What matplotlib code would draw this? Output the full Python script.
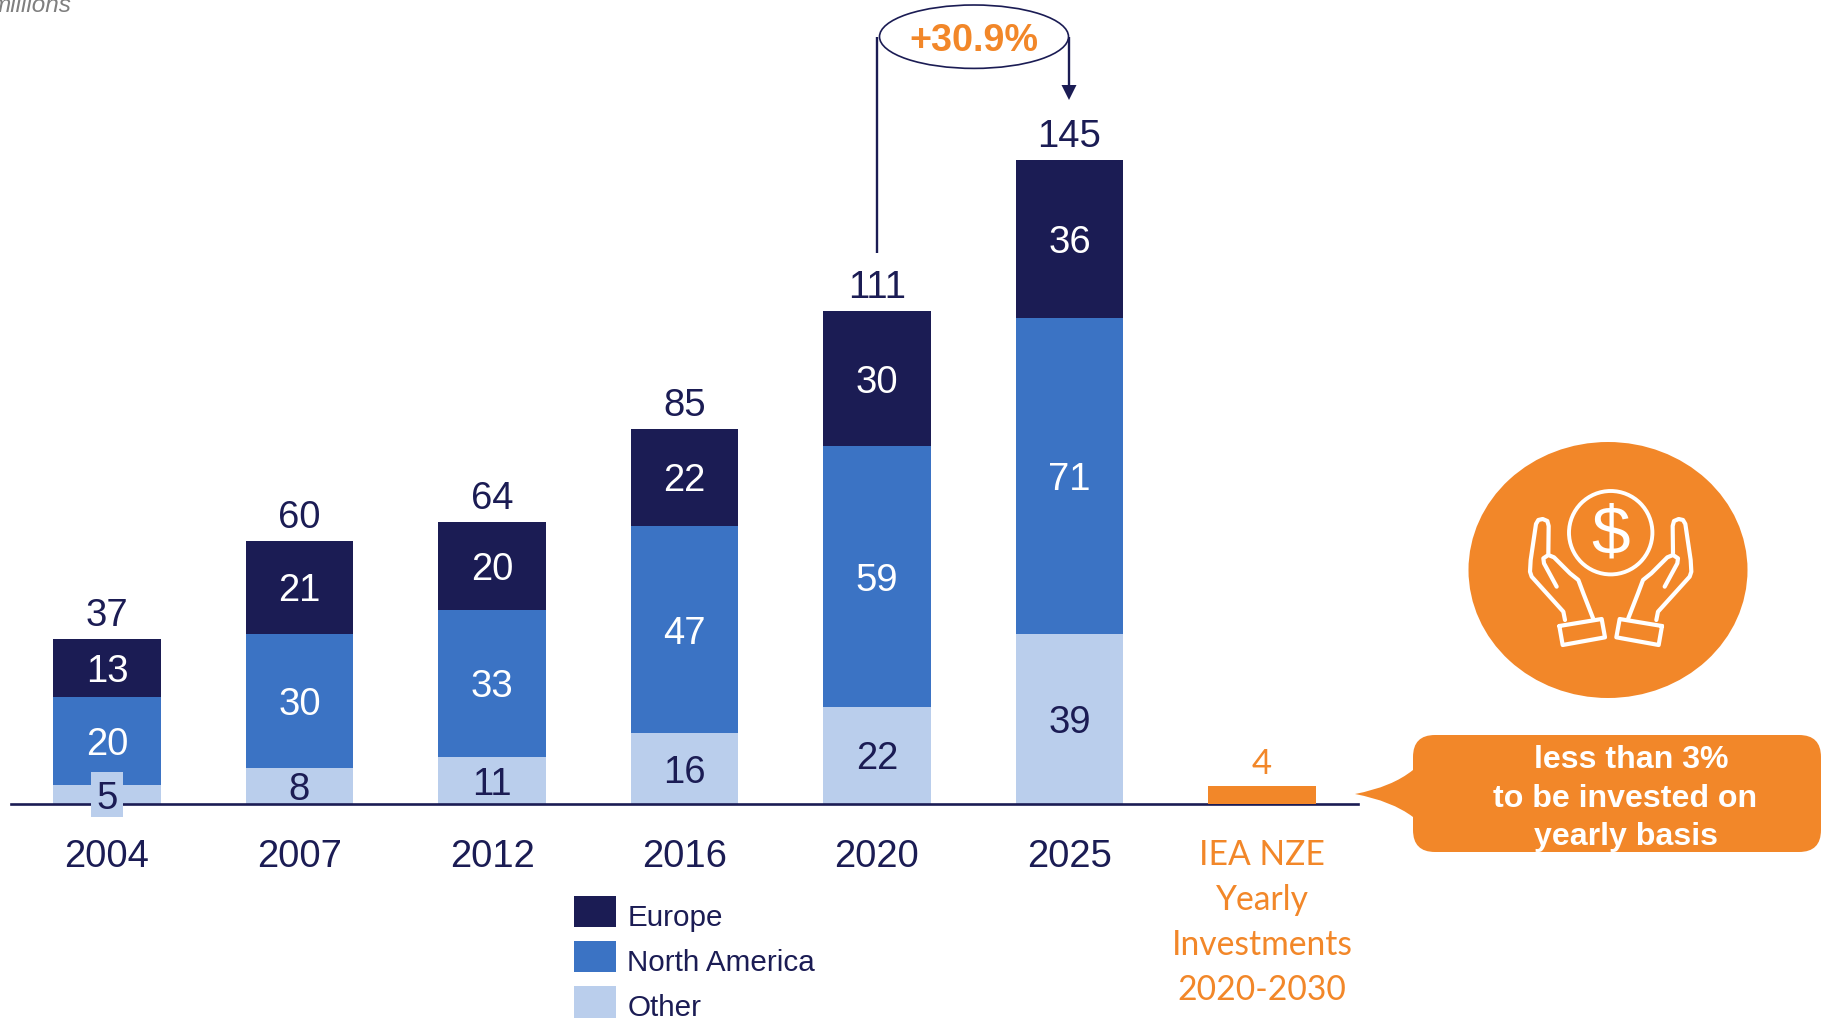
import numpy as np
import matplotlib
matplotlib.use("Agg")
import matplotlib.pyplot as plt
from matplotlib.patches import Circle, Ellipse, PathPatch, Polygon, Rectangle
from matplotlib.path import Path
from matplotlib.transforms import Affine2D

plt.rcParams['font.family'] = ['Liberation Sans', 'DejaVu Sans']

years = ['2004', '2007', '2012', '2016', '2020', '2025']
nze_label = 'IEA NZE\nYearly\nInvestments\n2020-2030'
nze_value = 4

# bar heights
other = [4.3, 8.2, 10.6, 16, 22, 38.5]
north_america = [20, 30.4, 33.4, 47, 59, 71.5]
europe = [13, 21, 20, 22, 30.6, 36]

# printed labels, they do not always add up
other_labels = [5, 8, 11, 16, 22, 39]
north_america_labels = [20, 30, 33, 47, 59, 71]
europe_labels = [13, 21, 20, 22, 30, 36]
totals = [37, 60, 64, 85, 111, 145]

growth_label = '+30.9%'
callout_text = ['less than 3%', 'to be invested on', 'yearly basis']

NAVY = '#1B1C54'
BLUE = '#3B73C4'
LIGHT = '#BACEEC'
ORANGE = '#F28729'

W, H = 1825, 1018
fig = plt.figure(figsize=(W / 100, H / 100), dpi=100)
ax = fig.add_axes([0, 0, 1, 1])
ax.set_facecolor('none')

# one category is 192.5 px, one unit is 4.414 px
ax.set_xlim(-107 / 192.5, (W - 107) / 192.5)
ax.set_ylim(-(H - 804) / 4.414, 804 / 4.414)

# pixel coordinates, origin top left, for the drawn decorations
px = Affine2D().scale(1, -1).translate(0, H)

x = np.arange(len(years))
width = 0.556
other = np.array(other)
north_america = np.array(north_america)
europe = np.array(europe)

b1 = ax.bar(x, other, width, color=LIGHT, label='Other')
b2 = ax.bar(x, north_america, width, bottom=other, color=BLUE, label='North America')
b3 = ax.bar(x, europe, width, bottom=other + north_america, color=NAVY, label='Europe')
ax.bar([len(years)], [nze_value], width, color=ORANGE, zorder=3)

for i in x:
    ax.text(i, other[i] / 2, str(other_labels[i]), color=NAVY, fontsize=27.5,
            ha='center', va='center_baseline', zorder=5)
    ax.text(i, other[i] + north_america[i] / 2, str(north_america_labels[i]), color='white',
            fontsize=27.5, ha='center', va='center_baseline', zorder=5)
    ax.text(i, other[i] + north_america[i] + europe[i] / 2, str(europe_labels[i]), color='white',
            fontsize=27.5, ha='center', va='center_baseline', zorder=5)
    top = other[i] + north_america[i] + europe[i]
    ax.annotate(str(totals[i]), (i, top), xytext=(0, 19.4), textcoords='offset points',
                color=NAVY, fontsize=27.5, ha='center', va='center_baseline')

ax.annotate(str(nze_value), (len(years), nze_value), xytext=(0, 18.5), textcoords='offset points',
            color=ORANGE, fontsize=25, ha='center', va='center_baseline',
            family=['Lato', 'DejaVu Sans'])

# the small label box of the first bar sticks out over the axis
ax.add_patch(Rectangle((91, 772), 32, 45, facecolor=LIGHT, edgecolor='none',
                       transform=px, zorder=4))

# axis
for side in ['left', 'right', 'top']:
    ax.spines[side].set_visible(False)
ax.spines['bottom'].set_position(('data', 0))
ax.spines['bottom'].set_bounds(-0.5, 6.5)
ax.spines['bottom'].set_color(NAVY)
ax.spines['bottom'].set_linewidth(1.9)
ax.set_yticks([])
ax.set_xticks(list(x) + [len(years)])
ax.set_xticklabels(years + [nze_label])
ax.tick_params(axis='x', length=0, pad=25, labelsize=27.5, labelcolor=NAVY)
last = ax.get_xticklabels()[-1]
last.set_color(ORANGE)
last.set_fontfamily(['Lato', 'DejaVu Sans'])
last.set_fontsize(24.2)
last.set_linespacing(1.5)

# legend
leg = ax.legend(handles=[b3, b2, b1], loc='upper left', bbox_to_anchor=(574, 896),
                bbox_transform=px, frameon=False, fontsize=21.3, labelcolor=NAVY,
                borderpad=0, borderaxespad=0, handlelength=1.42, handleheight=1.25,
                handletextpad=0.38, labelspacing=0.46)
# labels sit a little lower than the swatches
for txt in leg.get_texts():
    txt.set_position((0, -4))

# growth bracket
ax.plot([877.3, 877.3], [253, 37], color=NAVY, lw=1.7, transform=px, solid_capstyle='butt')
ax.plot([1069, 1069], [37, 88], color=NAVY, lw=1.7, transform=px, solid_capstyle='butt')
ax.add_patch(Polygon([(1061.5, 85), (1076.5, 85), (1069, 100)], closed=True,
                     facecolor=NAVY, edgecolor='none', transform=px))
ax.add_patch(Ellipse((974, 36.7), 189, 63.4, facecolor='white', edgecolor=NAVY, lw=1.2,
                     transform=px, zorder=3))
ax.text(974, 41, growth_label, color=ORANGE, fontsize=27.2, fontweight='bold',
        ha='center', va='center', transform=px, zorder=4)

# unit text, cut by the edge of the picture
ax.text(71.5, 11.5, 'millions', color='#7F7F7F', fontsize=17.5, style='italic',
        ha='right', va='baseline', transform=px)

# callout
l, r, t, b, rad = 1413, 1821, 735, 852, 22
verts = [(l + rad, t), (r - rad, t), (r, t), (r, t + rad), (r, b - rad), (r, b), (r - rad, b),
         (l + rad, b), (l, b), (l, b - rad), (l, 817), (1392, 801), (1355, 794),
         (1392, 787), (l, 770), (l, t + rad), (l, t), (l + rad, t), (l + rad, t)]
codes = [Path.MOVETO, Path.LINETO, Path.CURVE3, Path.CURVE3, Path.LINETO, Path.CURVE3, Path.CURVE3,
         Path.LINETO, Path.CURVE3, Path.CURVE3, Path.LINETO, Path.CURVE3, Path.CURVE3,
         Path.CURVE3, Path.CURVE3, Path.LINETO, Path.CURVE3, Path.CURVE3, Path.CLOSEPOLY]
ax.add_patch(PathPatch(Path(verts, codes), facecolor=ORANGE, edgecolor='none', transform=px))
for line, cx, cy in zip(callout_text, [1631, 1625.5, 1626], [760, 799, 837]):
    ax.text(cx, cy, line, color='white', fontsize=23.1, fontweight='bold',
            ha='center', va='center', transform=px)

# money icon
ax.add_patch(Ellipse((1608, 570), 279, 256, facecolor=ORANGE, edgecolor='none', transform=px))
ax.add_patch(Circle((1610.7, 532.7), 41.7, facecolor='none', edgecolor='white', lw=2.8,
                    transform=px))
ax.text(1610.7, 536, '$', color='white', fontsize=50, ha='center', va='center', transform=px)


def zoom_xy(pts, mirror=False):
    # icon outline was traced on a 3x crop starting at (1400, 420)
    pts = np.array(pts, dtype=float)
    if mirror:
        pts[:, 0] = 1264 - pts[:, 0]
    return 1400 + pts[:, 0] / 3, 420 + pts[:, 1] / 3


outline = [(495, 600), (490, 575), (395, 470), (390, 455), (392, 420), (408, 312), (415, 300),
           (428, 297), (442, 303), (446, 318), (445, 400)]
finger = [(470, 500), (432, 430), (430, 415), (445, 405), (462, 412), (510, 460), (535, 480),
          (550, 520), (580, 597)]
cuff = [(478, 618), (605, 597), (615, 652), (488, 675), (478, 618)]
for mirror in [False, True]:
    for pts in [outline, finger, cuff]:
        xs, ys = zoom_xy(pts, mirror)
        ax.plot(xs, ys, color='white', lw=3, transform=px, solid_capstyle='round',
                solid_joinstyle='round')

ax.set_xlim(-107 / 192.5, (W - 107) / 192.5)
ax.set_ylim(-(H - 804) / 4.414, 804 / 4.414)
fig.savefig('out.png', dpi=100)
